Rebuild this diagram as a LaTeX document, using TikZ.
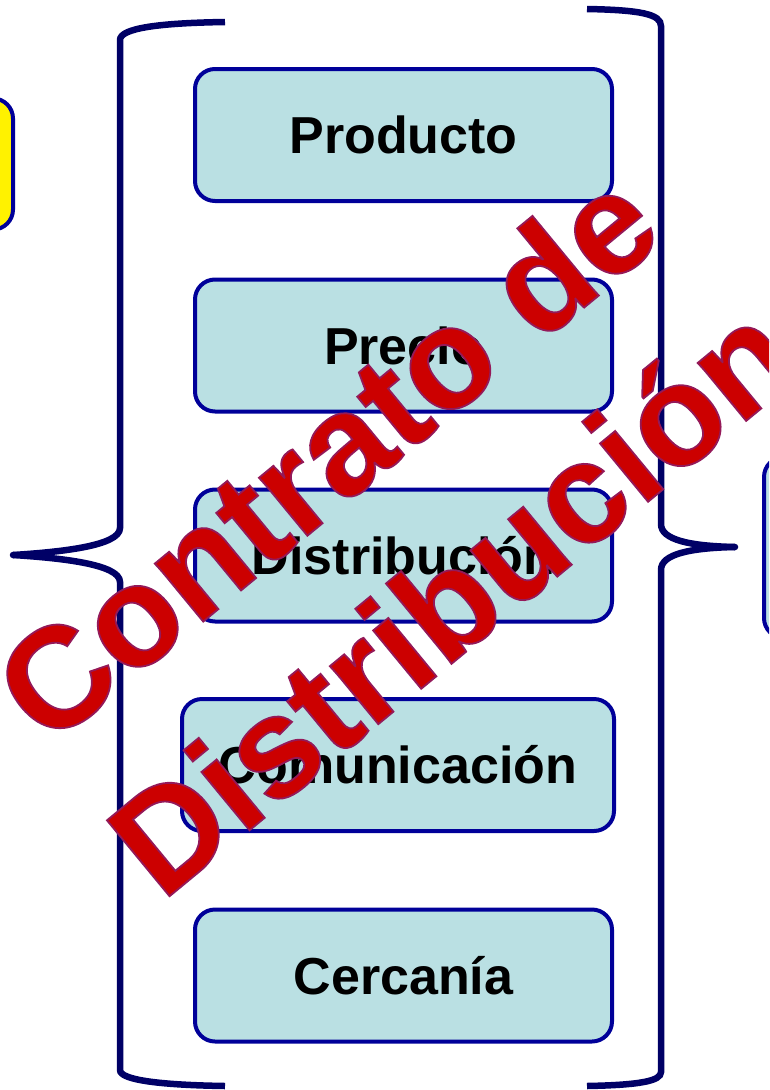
\documentclass[tikz,border=0pt]{standalone}
\usepackage{fontspec}
\setmainfont{Liberation Sans}

\definecolor{bracenavy}{RGB}{0,0,102}
\definecolor{boxblue}{RGB}{0,0,153}
\definecolor{boxfill}{RGB}{186,224,227}
\definecolor{stampred}{RGB}{204,0,0}

% filled text with a thin dark-red stroke around the glyphs
\newcommand\strokedtext[1]{\special{pdf:literal direct 2 Tr 1.8 w 0.58 0.1 0.35 RG}#1\special{pdf:literal direct 0 Tr}}

\tikzset{
  item/.style={draw=boxblue, line width=4pt, fill=boxfill, rounded corners=20pt,
    minimum width=417pt, minimum height=132pt, inner sep=0pt,
    font=\fontsize{52}{60}\selectfont\bfseries},
  brace/.style={draw=bracenavy, line width=6.5pt},
  side/.style={draw=boxblue, line width=4pt, rounded corners=20pt, inner sep=0pt},
  stamp/.style={text=stampred, font=\fontsize{143}{190}\selectfont\bfseries,
    rotate=39.5, anchor=base, inner sep=0pt}
}

\begin{document}
\begin{tikzpicture}[x=1pt, y=-1pt]
\useasboundingbox (0,0) rectangle (769,1090);
\clip (0,0) rectangle (769,1090);

% boxes at the page edges
\node[side, fill=yellow, minimum width=100pt, minimum height=131pt] (left) at (-37,164) {};
\node[side, fill=boxfill, minimum width=100pt, minimum height=181pt] (right) at (814,547.5) {};

% the five elements
\node[item] (prod) at (403.5,135) {Producto};
\node[item] (prec) at (403.5,345.5) {Precio};
\node[item] (dist) at (403.5,555.5) {Distribución};
\node[item, minimum width=432pt] (comu) at (398,765) {Comunicación};
\node[item] (cerc) at (403.5,975.5) {Cercanía};

% left brace
\coordinate (ltip) at (13,555);
\draw[brace] (225,22) .. controls (160,23) and (120,28) .. (120,40)
  -- (120,528) .. controls (120,546) and (60,552) .. (ltip);
\draw[brace] (ltip) .. controls (60,558) and (120,564) .. (120,582)
  -- (120,1070) .. controls (120,1080) and (160,1085) .. (225,1086);
\fill[bracenavy] (ltip) circle (3.25);

% right brace
\coordinate (rtip) at (735,547);
\draw[brace] (587,9) .. controls (640,10) and (661,14) .. (661,26)
  -- (661,524) .. controls (661,540) and (690,546) .. (rtip);
\draw[brace] (rtip) .. controls (690,548) and (661,554) .. (661,570)
  -- (661,1072) .. controls (661,1081) and (640,1085) .. (587,1086);
\fill[bracenavy] (rtip) circle (3.25);

% diagonal red title
\node[stamp] (t1) at (358,494) {\strokedtext{Contrato de}};
\node[stamp] (t2) at (484,637) {\strokedtext{Distribución}};
\end{tikzpicture}
\end{document}
